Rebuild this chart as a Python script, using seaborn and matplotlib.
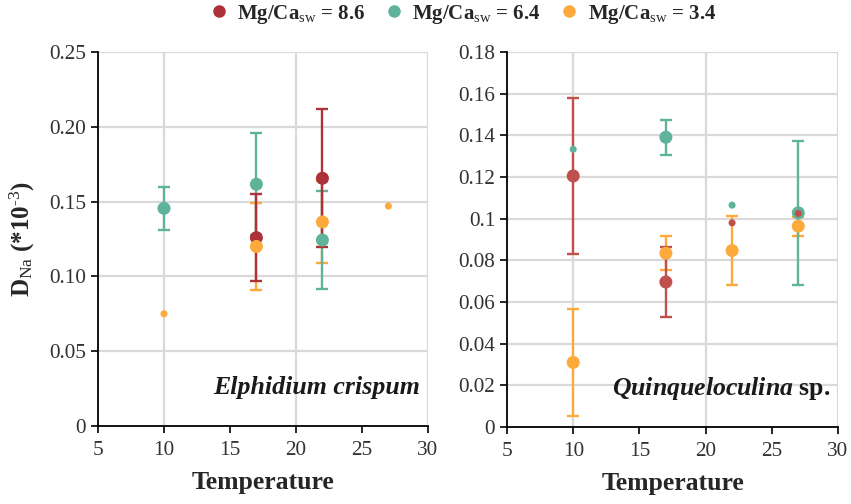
import numpy as np
import pandas as pd
import matplotlib
matplotlib.use("Agg")
import matplotlib.pyplot as plt
from matplotlib.lines import Line2D
import seaborn as sns

# ---- data ----
groups = ["Mg/Ca$_{\\mathrm{sw}}$ = 8.6", "Mg/Ca$_{\\mathrm{sw}}$ = 6.4", "Mg/Ca$_{\\mathrm{sw}}$ = 3.4"]

# Elphidium crispum
ec_group = [1, 2, 1, 0, 2, 0, 2, 1, 2]
ec_temp = [10, 10, 17, 17, 17, 22, 22, 22, 27]
ec_value = [0.1455, 0.075, 0.1616, 0.1259, 0.1200, 0.1656, 0.1364, 0.1243, 0.147]
ec_err = [0.0143, np.nan, 0.0341, 0.0292, 0.0293, 0.0462, 0.0272, 0.0325, np.nan]

# Quinqueloculina sp.
qs_group = [0, 1, 2, 1, 2, 0, 1, 0, 2, 1, 0, 2]
qs_temp = [10, 10, 10, 17, 17, 17, 22, 22, 22, 27, 27, 27]
qs_value = [0.1205, 0.1333, 0.0310, 0.1391, 0.0834, 0.0696, 0.1065, 0.0980, 0.0847, 0.1028, 0.1025, 0.0964]
qs_err = [0.0373, np.nan, 0.0255, 0.0083, 0.0081, 0.0166, np.nan, np.nan, 0.0164, 0.0344, np.nan, 0.0045]

ec_yticks = [0, 0.05, 0.10, 0.15, 0.20, 0.25]
ec_yticklabels = ["0", "0.05", "0.10", "0.15", "0.20", "0.25"]
qs_yticks = [0, 0.02, 0.04, 0.06, 0.08, 0.10, 0.12, 0.14, 0.16, 0.18]
qs_yticklabels = ["0", "0.02", "0.04", "0.06", "0.08", "0.1", "0.12", "0.14", "0.16", "0.18"]
xticks = [5, 10, 15, 20, 25, 30]

# ---- style ----
sns.set_theme(style="white")
plt.rcParams["font.family"] = ["Liberation Serif", "DejaVu Serif"]
plt.rcParams["mathtext.fontset"] = "custom"
plt.rcParams["mathtext.rm"] = "Liberation Serif"
plt.rcParams["mathtext.it"] = "Liberation Serif:italic:bold"
plt.rcParams["mathtext.bf"] = "Liberation Serif:bold"

pal_left = ["#ad3139", "#5fb39b", "#fdaa3d"]
pal_right = ["#c0504d", "#5fb39b", "#fdaa3d"]
grid_c = "#d9d9d9"


def make_df(g, t, v, e):
    df = pd.DataFrame({"group": [groups[i] for i in g], "gi": g, "temp": t, "value": v, "err": e})
    df["kind"] = np.where(df["err"].notna(), "big", "small")
    return df


fig = plt.figure(figsize=(8.51, 5.04), dpi=100)
axL = fig.add_axes([98 / 851, 78 / 504, 330 / 851, 374 / 504])
axR = fig.add_axes([507 / 851, 77 / 504, 331 / 851, 375 / 504])

panels = [
    (axL, make_df(ec_group, ec_temp, ec_value, ec_err), pal_left, 0.25, ec_yticks, ec_yticklabels),
    (axR, make_df(qs_group, qs_temp, qs_value, qs_err), pal_right, 0.18, qs_yticks, qs_yticklabels),
]

for ax, df, pal, ymax, yt, ytl in panels:
    ax.set_xlim(5, 30)
    ax.set_ylim(0, ymax)
    # grid
    for yv in yt[1:]:
        ax.axhline(yv, color=grid_c, lw=1.6, zorder=0)
    for xv in [10, 20, 30]:
        ax.axvline(xv, color=grid_c, lw=1.6, zorder=0)
    # error bars (orange first, red on top)
    for gi in [2, 1, 0]:
        sub = df[(df["gi"] == gi) & df["err"].notna()]
        if len(sub):
            ax.errorbar(sub["temp"], sub["value"], yerr=sub["err"], fmt="none",
                        ecolor=pal[gi], elinewidth=1.7, capsize=4.2, capthick=1.7, zorder=2)
    cmap = {groups[i]: pal[i] for i in range(3)}
    big = df[df["kind"] == "big"]
    small = df[df["kind"] == "small"]
    sns.scatterplot(data=big, x="temp", y="value", hue="group", palette=cmap, s=88,
                    edgecolor="none", legend=False, ax=ax, zorder=3)
    sns.scatterplot(data=small, x="temp", y="value", hue="group", palette=cmap, s=26,
                    edgecolor="none", legend=False, ax=ax, zorder=4)
    ax.set_xticks(xticks)
    ax.set_xticklabels([str(x) for x in xticks])
    ax.set_yticks(yt)
    ax.set_yticklabels(ytl)
    ax.tick_params(axis="both", which="major", direction="out", length=5, width=1.2,
                   color="black", labelsize=15.3, labelcolor="#333333", bottom=True, left=True)
    ax.tick_params(axis="x", pad=6)
    for s in ["top", "right"]:
        ax.spines[s].set_visible(False)
    for s in ["left", "bottom"]:
        ax.spines[s].set_color("black")
        ax.spines[s].set_linewidth(1.3)
    ax.set_xlabel("Temperature", fontsize=18.5, fontweight="bold", labelpad=8)
    ax.set_ylabel("")
    ax.grid(False)

axL.set_ylabel("D$_{\\mathrm{Na}}$ (*10$^{\\mathrm{\u2010}3}$)", fontsize=18, fontweight="bold", labelpad=9)

axL.text(0.975, 0.085, "Elphidium crispum", transform=axL.transAxes, ha="right", va="baseline",
         fontsize=18.6, fontweight="bold", fontstyle="italic", color="#1a1a1a")
axR.text(0.978, 0.085, "$\\mathit{Quinqueloculina}$ sp.", transform=axR.transAxes, ha="right",
         va="baseline", fontsize=18.5, fontweight="bold", color="#1a1a1a")

handles = [Line2D([], [], marker="o", linestyle="none", markersize=9, markerfacecolor=pal_left[i],
                  markeredgecolor="none", label=groups[i]) for i in range(3)]
fig.legend(handles=handles, loc="center", bbox_to_anchor=(0.543, 0.972), ncol=3, frameon=False,
           prop={"weight": "bold", "size": 15}, handlelength=1.0, handletextpad=0.4,
           columnspacing=0.85)

fig.savefig("out.png", dpi=100)
